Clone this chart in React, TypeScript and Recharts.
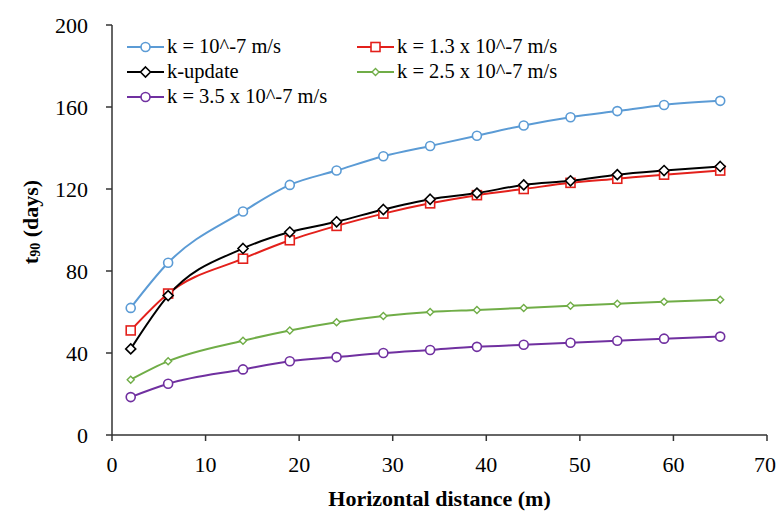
import React from 'react';
import { LineChart, Line, XAxis, YAxis } from 'recharts';

const distances = [2, 6, 14, 19, 24, 29, 34, 39, 44, 49, 54, 59, 65];
const k1 = [62, 84, 109, 122, 129, 136, 141, 146, 151, 155, 158, 161, 163];
const k13 = [51, 69, 86, 95, 102, 108, 113, 117, 120, 123, 125, 127, 129];
const kUpdate = [42, 68, 91, 99, 104, 110, 115, 118, 122, 124, 127, 129, 131];
const k25 = [27, 36, 46, 51, 55, 58, 60, 61, 62, 63, 64, 65, 66];
const k35 = [18.5, 25, 32, 36, 38, 40, 41.5, 43, 44, 45, 46, 47, 48];

const xTicks = [0, 10, 20, 30, 40, 50, 60, 70];
const yTicks = [0, 40, 80, 120, 160, 200];

const data = distances.map((x, i) => ({
  x,
  k1: k1[i],
  k13: k13[i],
  kUpdate: kUpdate[i],
  k25: k25[i],
  k35: k35[i],
}));

type Shape = 'circle' | 'square' | 'diamond' | 'smallDiamond';

const series: { key: string; name: string; color: string; shape: Shape }[] = [
  { key: 'k1', name: 'k = 10^-7 m/s', color: '#5B9BD5', shape: 'circle' },
  { key: 'k13', name: 'k = 1.3 x 10^-7 m/s', color: '#E3201B', shape: 'square' },
  { key: 'kUpdate', name: 'k-update', color: '#000000', shape: 'diamond' },
  { key: 'k25', name: 'k = 2.5 x 10^-7 m/s', color: '#70AD47', shape: 'smallDiamond' },
  { key: 'k35', name: 'k = 3.5 x 10^-7 m/s', color: '#7030A0', shape: 'circle' },
];

const FONT = 'Liberation Serif';

function Marker({ cx, cy, shape, color }: { cx: number; cy: number; shape: Shape; color: string }) {
  if (shape === 'square') {
    return <rect x={cx - 4.5} y={cy - 4.5} width={9} height={9} fill="#fff" stroke={color} strokeWidth={1.6} />;
  }
  if (shape === 'diamond') {
    return (
      <path
        d={`M${cx},${cy - 5} L${cx + 5},${cy} L${cx},${cy + 5} L${cx - 5},${cy} Z`}
        fill="#fff"
        stroke={color}
        strokeWidth={1.6}
      />
    );
  }
  if (shape === 'smallDiamond') {
    return (
      <path
        d={`M${cx},${cy - 3.5} L${cx + 3.5},${cy} L${cx},${cy + 3.5} L${cx - 3.5},${cy} Z`}
        fill="#fff"
        stroke={color}
        strokeWidth={1.4}
      />
    );
  }
  return <circle cx={cx} cy={cy} r={4.5} fill="#fff" stroke={color} strokeWidth={1.6} />;
}

function makeDot(shape: Shape, color: string) {
  return (props: any) => {
    const { cx, cy, index } = props;
    if (cx == null || cy == null) return <g key={index} />;
    return (
      <g key={index}>
        <Marker cx={cx} cy={cy} shape={shape} color={color} />
      </g>
    );
  };
}

// legend sits inside the plot, two columns like the original
function ChartLegend() {
  const item = (s: (typeof series)[number]) => (
    <div key={s.key} style={{ display: 'flex', alignItems: 'center', height: 25, whiteSpace: 'nowrap' }}>
      <svg width={37} height={14} style={{ marginRight: 3 }}>
        <line x1={0} y1={7} x2={37} y2={7} stroke={s.color} strokeWidth={2} />
        <Marker cx={18.5} cy={7} shape={s.shape} color={s.color} />
      </svg>
      <span>{s.name}</span>
    </div>
  );
  return (
    <div
      style={{
        position: 'absolute',
        top: 34,
        left: 127,
        display: 'flex',
        fontFamily: FONT,
        fontSize: 20.5,
        color: '#000',
        lineHeight: 1,
      }}
    >
      <div style={{ width: 230 }}>
        {item(series[0])}
        {item(series[2])}
        {item(series[4])}
      </div>
      <div>
        {item(series[1])}
        {item(series[3])}
      </div>
    </div>
  );
}

function YLabel({ viewBox }: any) {
  const cx = 30;
  const cy = viewBox ? viewBox.y + viewBox.height / 2 - 8 : 222;
  return (
    <text
      x={cx}
      y={cy}
      transform={`rotate(-90, ${cx}, ${cy})`}
      textAnchor="middle"
      dominantBaseline="central"
      fontFamily={FONT}
      fontWeight="bold"
      fontSize={22}
      fill="#000"
    >
      t<tspan fontSize={14} dy={5}>90</tspan>
      <tspan dy={-5}> (days)</tspan>
    </text>
  );
}

export default function App() {
  return (
    <div style={{ position: 'absolute', left: 0, top: 0, width: 776, height: 516, background: '#fff', fontFamily: FONT }}>
      <LineChart width={776} height={516} data={data} margin={{ top: 25, right: 9, bottom: 0, left: 52 }}>
        <XAxis
          dataKey="x"
          type="number"
          domain={[0, 70]}
          ticks={xTicks}
          stroke="#333"
          strokeWidth={1.5}
          tickSize={6}
          tickMargin={15}
          height={81}
          tick={{ fontFamily: FONT, fontSize: 22, fill: '#000' }}
          label={{
            value: 'Horizontal distance (m)',
            position: 'insideBottom',
            offset: 10,
            fontFamily: FONT,
            fontWeight: 'bold',
            fontSize: 22,
            fill: '#000',
          }}
        />
        <YAxis
          type="number"
          domain={[0, 200]}
          ticks={yTicks}
          stroke="#333"
          strokeWidth={1.5}
          tickSize={6}
          tickMargin={18}
          width={60}
          tick={{ fontFamily: FONT, fontSize: 22, fill: '#000' }}
          label={<YLabel />}
        />
        {series.map((s) => (
          <Line
            key={s.key}
            dataKey={s.key}
            name={s.name}
            type="monotone"
            stroke={s.color}
            strokeWidth={2}
            dot={makeDot(s.shape, s.color)}
            activeDot={false}
            isAnimationActive={false}
          />
        ))}
      </LineChart>
      <ChartLegend />
    </div>
  );
}
